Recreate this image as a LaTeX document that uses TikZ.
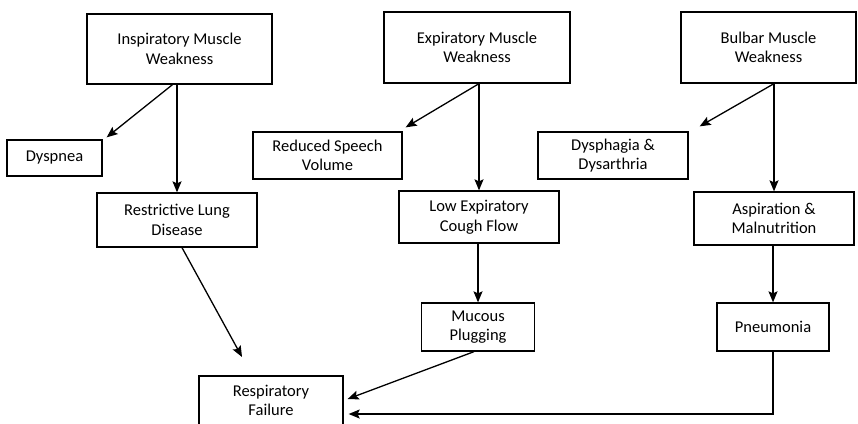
\documentclass[tikz,border=0pt]{standalone}
\usepackage{fontspec}
\setmainfont{Carlito}
\usetikzlibrary{arrows.meta,positioning}
\tikzstyle{box}=[rectangle,draw,line width=1.3pt,align=center,inner sep=0pt,font=\fontsize{16.5}{19.5}\selectfont]
\tikzstyle{arr}=[-{Stealth[length=11pt,width=9pt,inset=2pt]},line width=1.3pt]

\begin{document}
\begin{tikzpicture}[x=1pt,y=-1pt]
\useasboundingbox (0,0) rectangle (858,423);
\node (insp) [box, minimum width=185pt, minimum height=70pt] at (179.5,49) {Inspiratory Muscle\\Weakness};
\node (expi) [box, minimum width=186pt, minimum height=71pt] at (477,47.5) {Expiratory Muscle\\Weakness};
\node (bulb) [box, minimum width=175pt, minimum height=71pt] at (768.5,47.5) {Bulbar Muscle\\Weakness};
\node (dysp) [box, minimum width=95pt, minimum height=36pt] at (54.5,158) {Dyspnea};
\node (reds) [box, minimum width=149pt, minimum height=47pt] at (327.5,155.5) {Reduced Speech\\Volume};
\node (dysa) [box, minimum width=150pt, minimum height=47pt] at (613,155.5) {Dysphagia \&\\Dysarthria};
\node (rest) [box, minimum width=160pt, minimum height=54pt] at (177,220) {Restrictive Lung\\Disease};
\node (lowe) [box, minimum width=160pt, minimum height=52pt] at (479,217) {Low Expiratory\\Cough Flow};
\node (aspi) [box, minimum width=160pt, minimum height=53pt] at (774,218.5) {Aspiration \&\\Malnutrition};
\node (mucu) [box, minimum width=113pt, minimum height=48pt] at (478,327) {Mucous\\Plugging};
\node (pneu) [box, minimum width=112pt, minimum height=48pt] at (773,327) {Pneumonia};
\node (resp) [box, minimum width=144pt, minimum height=49pt] at (271,400.5) {Respiratory\\Failure};
\coordinate (rfend) at (242,357);
% first row to second and third rows
\draw [arr] ([shift={(-7,0)}]insp.south) -- ([shift={(4,-2)}]dysp.north east);
\draw [arr] (insp.south -| rest.north) -- (rest.north);
\draw [arr] (expi.south -| lowe.north) -- ([shift={(3,-4)}]reds.north east);
\draw [arr] (expi.south -| lowe.north) -- (lowe.north);
\draw [arr] (bulb.south -| aspi.north) -- ([shift={(11,-5)}]dysa.north east);
\draw [arr] (bulb.south -| aspi.north) -- (aspi.north);
% down to respiratory failure
\draw [arr] (lowe.south -| mucu.north) -- (mucu.north);
\draw [arr] (aspi.south -| pneu.north) -- (pneu.north);
\draw [arr] ([shift={(5,0)}]rest.south) -- (rfend);
\draw [arr] ([shift={(-4,0)}]mucu.south) -- ([shift={(4,-1.5)}]resp.east);
\draw [arr] (pneu.south) |- ([shift={(5,13.5)}]resp.east);
\end{tikzpicture}
\end{document}
